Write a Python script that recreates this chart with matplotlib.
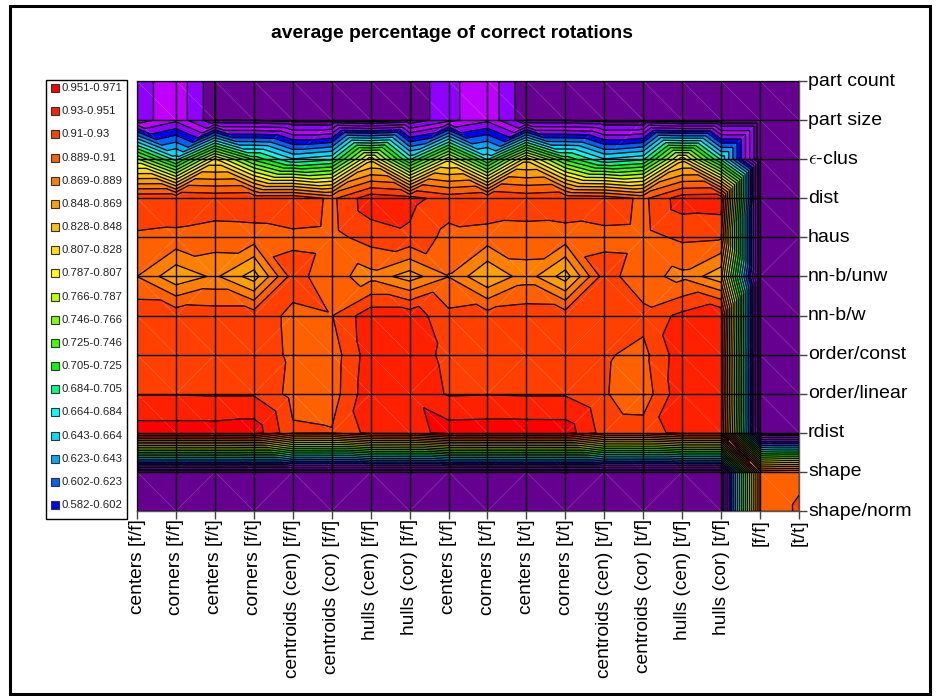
import matplotlib
matplotlib.use('Agg')
import matplotlib.pyplot as plt
import matplotlib.tri as mtri
from matplotlib.patches import Rectangle
import numpy as np

plt.rcParams['font.family'] = ['Liberation Sans', 'DejaVu Sans']
plt.rcParams['mathtext.fontset'] = 'cm'

methods = ['centers [f/f]', 'corners [f/f]', 'centers [f/t]', 'corners [f/t]',
           'centroids (cen) [f/f]', 'centroids (cor) [f/f]', 'hulls (cen) [f/f]', 'hulls (cor) [f/f]',
           'centers [t/f]', 'corners [t/f]', 'centers [t/t]', 'corners [t/t]',
           'centroids (cen) [t/f]', 'centroids (cor) [t/f]', 'hulls (cen) [t/f]', 'hulls (cor) [t/f]',
           '[f/f]', '[t/t]']
features = ['part count', 'part size', r'$\epsilon$-clus', 'dist', 'haus', 'nn-b/unw', 'nn-b/w',
            'order/const', 'order/linear', 'rdist', 'shape', 'shape/norm']

part_count = [.530, .556, .5049, .504, .498, .498, .490, .504, .535, .556, .5049, .504, .498, .498, .490, .490, .490, .490]
part_size = [.530, .556, .5049, .504, .498, .498, .490, .504, .535, .556, .5049, .504, .498, .498, .490, .490, .490, .490]
eclus = [.770, .675, .810, .720, .665, .680, .820, .680, .800, .680, .820, .720, .665, .680, .820, .680, .490, .490]
dist = [.927, .928, .925, .927, .928, .905, .943, .936, .922, .929, .923, .927, .924, .905, .941, .943, .490, .490]
haus = [.9065, .904, .899, .900, .905, .903, .919, .926, .903, .900, .901, .900, .904, .903, .914, .912, .490, .490]
nnb_unw = [.889, .854, .873, .8375, .920, .895, .882, .859, .888, .849, .880, .8375, .920, .895, .884, .855, .490, .490]
nnb_w = [.925, .924, .922, .922, .905, .909, .943, .943, .915, .919, .923, .922, .925, .917, .935, .949, .490, .490]
order_const = [.922, .922, .922, .922, .906, .899, .9415, .940, .925, .922, .922, .922, .9125, .904, .943, .943, .490, .490]
order_linear = [.929, .929, .928, .928, .9035, .900, .945, .945, .928, .929, .928, .928, .9116, .898, .945, .945, .490, .490]
rdist = [.961, .961, .961, .9636, .9132, .9116, .9365, .938, .962, .963, .963, .9628, .921, .920, .937, .937, .490, .490]
shape = [.490, .490, .490, .490, .490, .490, .490, .490, .490, .490, .490, .490, .490, .490, .490, .490, .900, .907]
shape_norm = [.490, .490, .490, .490, .490, .490, .490, .490, .490, .490, .490, .490, .490, .490, .490, .490, .900, .912]

# band edges, low to high
levels = [.48, .505, .52, .541, .561, .582, .602, .623, .643, .664, .684, .705, .725,
          .746, .766, .787, .807, .828, .848, .869, .889, .91, .93, .951, .971]
colours = ['#660090', '#660090', '#9000FF', '#BF00FF', '#9000FF', '#0000FF', '#0060FF', '#00A8FF',
           '#00DCFF', '#00FFFF', '#00FF80', '#00FF00', '#40FF00', '#80FF00', '#C0FF00', '#FFFF00',
           '#FFE000', '#FFC000', '#FFA000', '#FF8000', '#FF6000', '#FF4000', '#FF2000', '#FF0000']
legend_labels = ['0.951-0.971', '0.93-0.951', '0.91-0.93', '0.889-0.91', '0.869-0.889', '0.848-0.869',
                 '0.828-0.848', '0.807-0.828', '0.787-0.807', '0.766-0.787', '0.746-0.766', '0.725-0.746',
                 '0.705-0.725', '0.684-0.705', '0.664-0.684', '0.643-0.664', '0.623-0.643', '0.602-0.623',
                 '0.582-0.602']

# which way each cell is split: b = \  f = /
splits = ['bbbbbbbbbbbbbbbbb',
          'bfbffbff' 'bfbffbff' 'b',
          'bfbfbfbf' 'bfbfbfbf' 'b',
          'bfbfbfbb' 'ffbfbfbf' 'b',
          'fbfbfbfb' 'fbfbfbfb' 'f',
          'bfbfbfbf' 'bfbfbfbf' 'b',
          'bbbfbbbb' 'bbbffbbb' 'b',
          'bfbfbbbf' 'bfbfbbbf' 'b',
          'bbbfbfbb' 'bbbfffbb' 'b',
          'bfbbbbbb' 'bfbbbbbb' 'b',
          'bfbfbfbf' 'bfbfbfbf' 'b']

z = np.array([part_count, part_size, eclus, dist, haus, nnb_unw, nnb_w,
              order_const, order_linear, rdist, shape, shape_norm])
nrow, ncol = z.shape
xx, yy = np.meshgrid(np.arange(ncol), np.arange(nrow))

triangles = []
for r in range(nrow - 1):
    for c in range(ncol - 1):
        tl = r * ncol + c
        tr = tl + 1
        bl = tl + ncol
        br = bl + 1
        if splits[r][c] == 'b':
            triangles += [[tl, bl, br], [tl, br, tr]]
        else:
            triangles += [[tl, bl, tr], [bl, br, tr]]
tri = mtri.Triangulation(xx.ravel(), yy.ravel(), triangles)

W, H = 936, 696
fig = plt.figure(figsize=(W / 100, H / 100), dpi=100)
ax = fig.add_axes([137 / W, 1 - 511 / H, 662 / W, 430 / H])

ax.tricontourf(tri, z.ravel(), levels=levels, colors=colours)
for r in range(nrow - 1):
    for c in range(ncol - 1):
        ys = [r, r + 1] if splits[r][c] == 'b' else [r + 1, r]
        ax.plot([c, c + 1], ys, color='white', lw=0.5, alpha=0.22, zorder=2)
ax.tricontour(tri, z.ravel(), levels=levels[1:-1], colors='black', linewidths=0.95, zorder=3)

ax.set_xlim(0, ncol - 1)
ax.set_ylim(nrow - 1, 0)
ax.set_xticks(range(ncol))
ax.set_xticklabels(methods, rotation=90, fontsize=13.8)
ax.set_yticks(range(nrow))
ax.set_yticklabels(features, fontsize=14, va='center')
ax.yaxis.tick_right()
ax.tick_params(axis='x', length=6, width=1, color='#444444', pad=0)
ax.tick_params(axis='y', length=6, width=1, color='#444444', pad=0.5)
ax.grid(True, color='black', lw=1, zorder=4)
ax.set_axisbelow(False)
for s in ax.spines.values():
    s.set_color('#555555')
    s.set_linewidth(1)

# page overlay for the frame, title and legend
page = fig.add_axes([0, 0, 1, 1], zorder=5)
page.set_xlim(0, W)
page.set_ylim(H, 0)
page.axis('off')
page.patch.set_alpha(0)
page.add_patch(Rectangle((9.5, 6), 920.5, 688, fc='none', ec='black', lw=2.2))
page.text(451.5, 33, 'average percentage of correct rotations', ha='center', va='center',
          fontsize=13.9, fontweight='bold')
page.add_patch(Rectangle((46, 80), 81, 439, fc='white', ec='black', lw=1))
for i, label in enumerate(legend_labels):
    y = 88 + i * 23.17
    page.add_patch(Rectangle((51, y - 4), 8, 8, fc=colours[-1 - i], ec='#333333', lw=0.8))
    page.text(61, y, label, ha='left', va='center', fontsize=8.2, color='#222222')

fig.savefig('out.png', dpi=100)
